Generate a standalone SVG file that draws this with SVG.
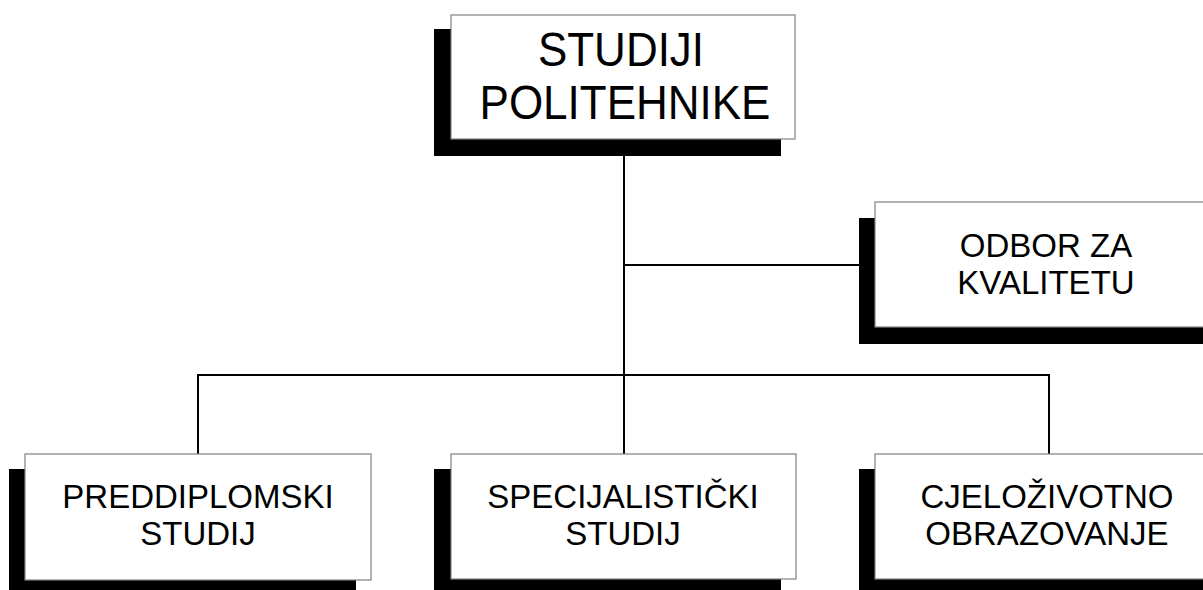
<svg xmlns="http://www.w3.org/2000/svg" width="1203" height="590" viewBox="0 0 1203 590">
<style>
.sh{fill:#000}
.bx{fill:#fff;stroke:#808080;stroke-width:1.2}
.t{font-family:"Liberation Sans",Arial,sans-serif;fill:#000;text-anchor:middle}
.big{font-size:44px}
.sm{font-size:33px}
.ln{stroke:#000;stroke-width:2;fill:none}
</style>
<rect width="1203" height="590" fill="#fff"/>
<g id="connectors">
<line class="ln" x1="624" y1="139" x2="624" y2="454"/>
<line class="ln" x1="624" y1="265" x2="859" y2="265"/>
<line class="ln" x1="198" y1="375" x2="1049" y2="375"/>
<line class="ln" x1="198" y1="374" x2="198" y2="454"/>
<line class="ln" x1="1049" y1="374" x2="1049" y2="454"/>
</g>
<g id="studiji-politehnike">
<rect class="sh" x="434" y="29" width="347" height="127"/>
<rect class="bx" x="451" y="15" width="344" height="124"/>
<text class="t big" transform="translate(621,66) scale(1,1.08)">STUDIJI</text>
<text class="t big" transform="translate(625,119) scale(1,1.08)">POLITEHNIKE</text>
</g>
<g id="odbor-za-kvalitetu">
<rect class="sh" x="859" y="218" width="360" height="126"/>
<rect class="bx" x="875" y="202" width="350" height="125"/>
<text class="t sm" x="1046" y="257">ODBOR ZA</text>
<text class="t sm" x="1046" y="294">KVALITETU</text>
</g>
<g id="preddiplomski-studij">
<rect class="sh" x="9" y="469" width="347" height="130"/>
<rect class="bx" x="25" y="454" width="346" height="126"/>
<text class="t sm" x="198" y="508">PREDDIPLOMSKI</text>
<text class="t sm" x="198" y="545">STUDIJ</text>
</g>
<g id="specijalisticki-studij">
<rect class="sh" x="434" y="469" width="347" height="130"/>
<rect class="bx" x="451" y="454" width="345" height="125"/>
<text class="t sm" x="623" y="508">SPECIJALISTIČKI</text>
<text class="t sm" x="623" y="545">STUDIJ</text>
</g>
<g id="cjelozivotno-obrazovanje">
<rect class="sh" x="859" y="469" width="360" height="130"/>
<rect class="bx" x="875" y="454" width="350" height="125"/>
<text class="t sm" x="1047" y="508">CJELOŽIVOTNO</text>
<text class="t sm" x="1047" y="545">OBRAZOVANJE</text>
</g>
</svg>
